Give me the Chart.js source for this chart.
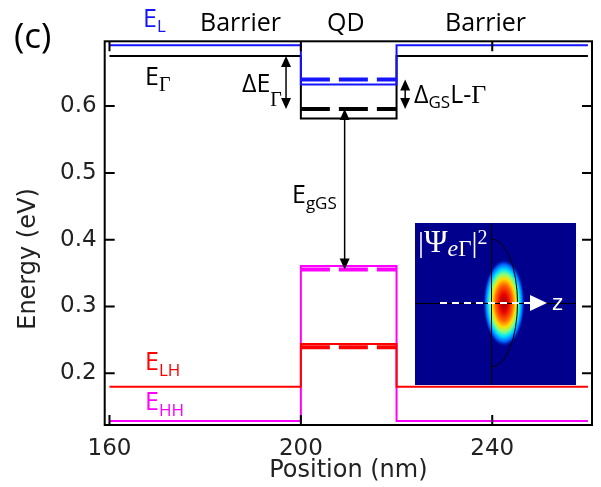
<!DOCTYPE html>
<html>
<head>
<meta charset="utf-8">
<script src="https://cdn.jsdelivr.net/npm/chart.js@4"></script>
<style>
  html, body { margin: 0; padding: 0; background: #fff; }
  canvas { display: block; }
</style>
</head>
<body>
<canvas id="chart" width="601" height="487"></canvas>
<script>
// band profile along the growth axis (nm): barrier | QD | barrier
const bandX = [160, 200, 200, 220, 220, 260];
const eLBand = [0.691, 0.691, 0.6325, 0.6325, 0.691, 0.691];
const eGammaBand = [0.675, 0.675, 0.5815, 0.5815, 0.675, 0.675];
const eLHBand = [0.18, 0.18, 0.244, 0.244, 0.18, 0.18];
const eHHBand = [0.1285, 0.1285, 0.3605, 0.3605, 0.1285, 0.1285];

// ground states inside the dot (dashed)
const gsX = [200, 220];
const eLGS = [0.64, 0.64];
const eGammaGS = [0.5955, 0.5955];
const eLHGS = [0.239, 0.239];
const eHHGS = [0.3555, 0.3555];

// double arrows: x position, from, to (eV)
const arrowX = [196.9, 221.8, 209.15];
const arrowFrom = [0.675, 0.64, 0.5955];
const arrowTo = [0.5955, 0.5955, 0.3555];

const xTicks = [160, 200, 240];
const yTicks = [0.2, 0.3, 0.4, 0.5, 0.6];

const BLUE = "#1414ff";
const RED = "#ff0000";
const MAGENTA = "#ff00ff";
const BLACK = "#000000";

function pts(xs, ys) {
  return xs.map((x, i) => ({ x: x, y: ys[i] }));
}

function band(label, xs, ys, color, order) {
  return {
    label: label,
    data: pts(xs, ys),
    borderColor: color,
    borderWidth: 2,
    pointRadius: 0,
    fill: false,
    tension: 0,
    order: order,
  };
}

function level(label, ys, color, order) {
  return {
    label: label,
    data: pts(gsX, ys),
    borderColor: color,
    borderWidth: 4,
    borderDash: [29, 9],
    borderCapStyle: "butt",
    pointRadius: 0,
    fill: false,
    order: order,
  };
}

// text made of runs: [text, font, dy]
function runs(ctx, x, y, color, parts) {
  ctx.fillStyle = color;
  ctx.textBaseline = "alphabetic";
  ctx.textAlign = "left";
  parts.forEach(([t, font, dy]) => {
    ctx.font = font;
    ctx.fillText(t, x, y + (dy || 0));
    x += ctx.measureText(t).width;
  });
}

function arrowHead(ctx, x, y, dir) {
  ctx.beginPath();
  ctx.moveTo(x, y);
  ctx.lineTo(x - 5, y - dir * 11);
  ctx.lineTo(x + 5, y - dir * 11);
  ctx.closePath();
  ctx.fill();
}

function drawInset(ctx) {
  const x0 = 415, y0 = 223, x1 = 576, y1 = 385;
  ctx.save();
  ctx.fillStyle = "#00008c";
  ctx.fillRect(x0, y0, x1 - x0, y1 - y0);
  ctx.beginPath();
  ctx.rect(x0, y0, x1 - x0, y1 - y0);
  ctx.clip();

  // electron density blob, jet colours
  ctx.save();
  ctx.translate(504, 303);
  ctx.scale(1, 2.1);
  const r = 21;
  const g = ctx.createRadialGradient(0, 0, 0, 0, 0, r);
  g.addColorStop(0, "#9a0000");
  g.addColorStop(0.2, "#e80000");
  g.addColorStop(0.4, "#ff6000");
  g.addColorStop(0.55, "#ffe000");
  g.addColorStop(0.66, "#80ff80");
  g.addColorStop(0.76, "#00e0ff");
  g.addColorStop(0.88, "#0060ff");
  g.addColorStop(1, "rgba(0,0,140,0)");
  ctx.fillStyle = g;
  ctx.beginPath();
  ctx.arc(0, 0, r, 0, Math.PI * 2);
  ctx.fill();
  ctx.restore();

  ctx.strokeStyle = "#000";
  ctx.lineWidth = 1;
  ctx.beginPath();
  ctx.moveTo(491.5, y0);
  ctx.lineTo(491.5, y1);
  ctx.moveTo(x0, 303.5);
  ctx.lineTo(x1, 303.5);
  ctx.stroke();
  ctx.beginPath();
  ctx.ellipse(491.5, 303, 26, 64, 0, -Math.PI / 2, Math.PI / 2);
  ctx.stroke();

  // z axis arrow
  ctx.strokeStyle = "#fff";
  ctx.lineWidth = 2;
  ctx.setLineDash([7, 5]);
  ctx.beginPath();
  ctx.moveTo(440, 303);
  ctx.lineTo(531, 303);
  ctx.stroke();
  ctx.setLineDash([]);
  ctx.fillStyle = "#fff";
  ctx.beginPath();
  ctx.moveTo(530, 295);
  ctx.lineTo(547, 303);
  ctx.lineTo(530, 311);
  ctx.closePath();
  ctx.fill();
  ctx.font = "21px 'DejaVu Sans'";
  ctx.fillText("z", 552, 310);
  ctx.restore();

  runs(ctx, 418, 252, "#fff", [
    ["|", "30px 'Liberation Serif'"],
    ["Ψ", "32px 'Liberation Serif'"],
    ["e", "italic 24px 'Liberation Serif'", 4],
    ["Γ", "23px 'Liberation Serif'", 4],
    ["|", "30px 'Liberation Serif'"],
    ["2", "20px 'Liberation Serif'", -8],
  ]);
}

const decorations = {
  id: "decorations",
  afterDatasetsDraw(chart) {
    const { ctx, chartArea: a, scales } = chart;
    const sx = scales.x, sy = scales.y;
    ctx.save();

    // frame and inward ticks on all four sides
    ctx.strokeStyle = BLACK;
    ctx.lineWidth = 2;
    ctx.strokeRect(a.left, a.top, a.right - a.left, a.bottom - a.top);
    ctx.beginPath();
    xTicks.forEach((v) => {
      const p = sx.getPixelForValue(v);
      ctx.moveTo(p, a.bottom);
      ctx.lineTo(p, a.bottom - 10);
      ctx.moveTo(p, a.top);
      ctx.lineTo(p, a.top + 10);
    });
    yTicks.forEach((v) => {
      const p = sy.getPixelForValue(v);
      ctx.moveTo(a.left, p);
      ctx.lineTo(a.left + 10, p);
      ctx.moveTo(a.right, p);
      ctx.lineTo(a.right - 10, p);
    });
    ctx.stroke();

    drawInset(ctx);

    // double arrows
    ctx.strokeStyle = BLACK;
    ctx.fillStyle = BLACK;
    ctx.lineWidth = 1.5;
    arrowX.forEach((xv, i) => {
      const x = sx.getPixelForValue(xv);
      const yA = sy.getPixelForValue(arrowFrom[i]);
      const yB = sy.getPixelForValue(arrowTo[i]);
      ctx.beginPath();
      ctx.moveTo(x, yA + 8);
      ctx.lineTo(x, yB - 8);
      ctx.stroke();
      arrowHead(ctx, x, yA, -1);
      arrowHead(ctx, x, yB, 1);
    });

    // labels
    const sans = "'Open Sans'";
    const big = "25px " + sans;
    const sub = "17px " + sans;
    const serifSub = "20px 'Liberation Serif'";
    runs(ctx, 14, 48, BLACK, [["(c)", "35px " + sans]]);
    runs(ctx, 143, 27, BLUE, [["E", big], ["L", sub, 5]]);
    runs(ctx, 200, 31, BLACK, [["Barrier", big]]);
    runs(ctx, 327, 31, BLACK, [["QD", big]]);
    runs(ctx, 445, 31, BLACK, [["Barrier", big]]);
    runs(ctx, 145, 85, BLACK, [["E", big], ["Γ", serifSub, 6]]);
    runs(ctx, 242, 92, BLACK, [["ΔE", big], ["Γ", serifSub, 14]]);
    runs(ctx, 414, 103, BLACK, [["Δ", big], ["GS", sub, 5], ["L-", big], ["Γ", "26px 'Liberation Serif'"]]);
    runs(ctx, 292, 203, BLACK, [["E", big], ["gGS", sub, 6]]);
    runs(ctx, 145, 370, RED, [["E", big], ["LH", sub, 6]]);
    runs(ctx, 145, 410, MAGENTA, [["E", big], ["HH", sub, 6]]);

    // y axis title
    ctx.save();
    ctx.translate(29, 259);
    ctx.rotate(-Math.PI / 2);
    ctx.font = "24px 'DejaVu Sans'";
    ctx.fillStyle = "#222";
    ctx.textAlign = "center";
    ctx.textBaseline = "middle";
    ctx.fillText("Energy (eV)", 0, 0);
    ctx.restore();

    ctx.restore();
  },
};

new Chart(document.getElementById("chart"), {
  type: "line",
  data: {
    datasets: [
      level("E_L GS", eLGS, BLUE, 1),
      level("E_Gamma GS", eGammaGS, BLACK, 1),
      level("E_LH GS", eLHGS, RED, 1),
      level("E_HH GS", eHHGS, MAGENTA, 1),
      band("E_L", bandX, eLBand, BLUE, 2),
      band("E_Gamma", bandX, eGammaBand, BLACK, 3),
      band("E_LH", bandX, eLHBand, RED, 2),
      band("E_HH", bandX, eHHBand, MAGENTA, 3),
    ],
  },
  options: {
    responsive: false,
    animation: false,
    devicePixelRatio: 1,
    layout: { padding: { top: 41.3, right: 9, left: 0, bottom: 0 } },
    plugins: {
      legend: { display: false },
      tooltip: { enabled: false },
    },
    scales: {
      x: {
        type: "linear",
        min: 159,
        max: 260.85,
        grid: { display: false, drawTicks: false },
        border: { display: false },
        afterBuildTicks: (s) => {
          s.ticks = xTicks.map((v) => ({ value: v }));
        },
        afterFit: (s) => {
          s.height = 62;
        },
        ticks: {
          autoSkip: false,
          maxRotation: 0,
          padding: 10,
          color: "#222",
          font: { family: "DejaVu Sans", size: 23 },
          callback: (v) => String(v),
        },
        title: {
          display: true,
          text: "Position (nm)",
          color: "#222",
          font: { family: "DejaVu Sans", size: 24 },
          padding: { top: 0, bottom: 2 },
        },
      },
      y: {
        type: "linear",
        min: 0.1226,
        max: 0.697,
        grid: { display: false, drawTicks: false },
        border: { display: false },
        afterBuildTicks: (s) => {
          s.ticks = yTicks.map((v) => ({ value: v }));
        },
        afterFit: (s) => {
          s.width = 104.7;
        },
        ticks: {
          autoSkip: false,
          padding: 8,
          color: "#222",
          font: { family: "DejaVu Sans", size: 23 },
          callback: (v) => v.toFixed(1),
        },
      },
    },
  },
  plugins: [decorations],
});
</script>
</body>
</html>
